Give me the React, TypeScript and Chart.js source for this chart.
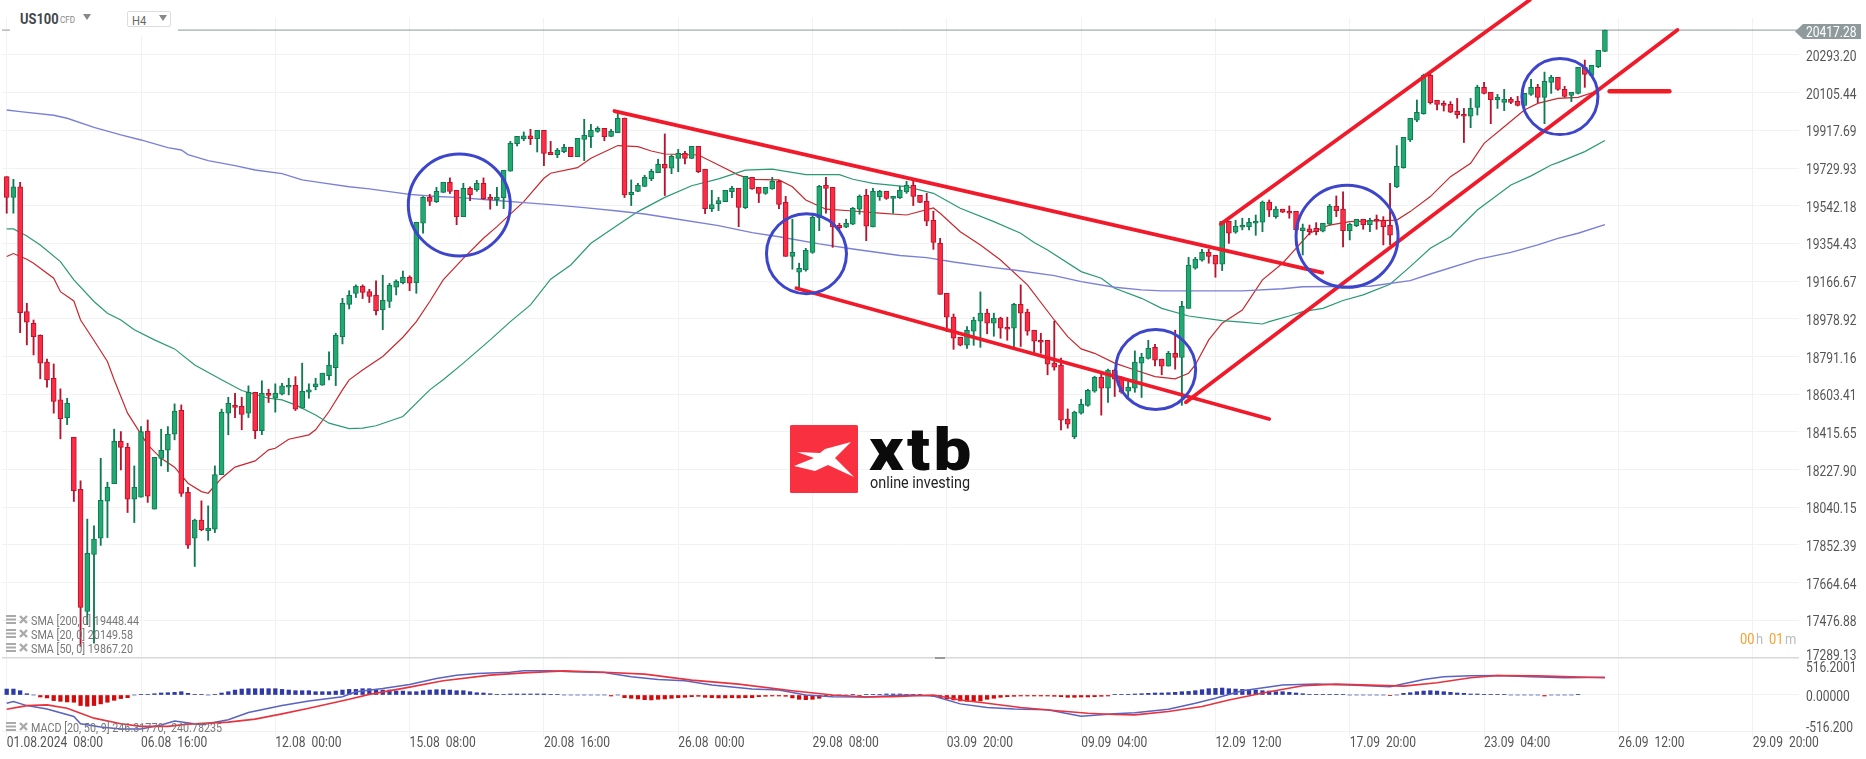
import React, { useEffect, useRef } from 'react';
import Chart from 'chart.js/auto';

const opens = [19687,19584,19637,19015,18957,18897,18763,18683,18575,18487,
18389,18130,17521,17805,17886,18070,18158,18369,18339,18080,
18090,18419,18031,18284,18324,18404,18523,18115,17886,17976,
17924,17931,18203,18509,18548,18543,18509,18613,18422,18608,
18583,18603,18638,18648,18534,18613,18641,18648,18696,18736,
18890,19051,19105,19141,19114,19096,19025,19066,19136,19159,
19186,19159,19455,19584,19563,19609,19659,19619,19488,19629,
19622,19654,19584,19573,19583,19714,19852,19876,19890,19876,
19918,19808,19797,19812,19833,19787,19873,19886,19913,19928,
19888,19906,19979,19598,19614,19639,19677,19707,19749,19729,
19778,19803,19778,19838,19724,19528,19553,19563,19612,19629,
19533,19684,19634,19603,19626,19664,19559,19290,19211,19224,
19310,19481,19644,19634,19445,19435,19450,19525,19594,19437,
19588,19614,19579,19583,19611,19644,19594,19564,19470,19355,
19106,18987,18887,18847,18917,18967,19007,18957,18982,18937,
18932,19051,19012,18922,18872,18872,18758,18748,18479,18392,
18509,18548,18618,18688,18633,18723,18683,18618,18633,18758,
18782,18837,18778,18743,18807,18787,19031,19231,19271,19310,
19295,19251,19465,19410,19435,19438,19455,19460,19561,19488,
19525,19515,19515,19418,19427,19430,19415,19450,19539,19525,
19418,19443,19475,19448,19475,19470,19445,19636,19732,19870,
19969,20001,20192,20067,20052,20047,20013,19998,19988,20032,
20132,20107,20071,20057,20072,20062,20042,20097,20132,20082,
20157,20182,20122,20092,20102,20232,20192,20235,20311];

const closes = [19584,19637,19010,18962,18890,18758,18675,18567,18482,18558,
18123,17541,17811,17881,18075,18140,18369,18338,18080,18140,
18417,18095,18289,18324,18404,18519,18109,17851,17976,17928,
17936,18203,18514,18558,18537,18502,18613,18422,18608,18597,
18608,18645,18648,18529,18618,18625,18655,18708,18748,18897,
19056,19096,19141,19110,19090,19020,19071,19146,19166,19186,
19156,19460,19584,19564,19614,19659,19614,19488,19629,19598,
19654,19578,19574,19584,19719,19853,19888,19890,19876,19918,
19803,19797,19818,19833,19787,19878,19893,19918,19928,19886,
19913,19978,19596,19609,19644,19684,19714,19749,19729,19788,
19803,19778,19838,19712,19528,19548,19568,19619,19629,19534,
19689,19626,19604,19634,19664,19549,19290,19310,19231,19320,
19485,19639,19629,19437,19433,19455,19529,19589,19440,19614,
19614,19579,19589,19619,19644,19589,19559,19465,19360,19101,
18987,18882,18847,18922,18972,19007,18957,18982,18932,18927,
19051,19007,18917,18867,18862,18753,18738,18474,18454,18514,
18553,18623,18688,18633,18723,18678,18613,18638,18763,18787,
18832,18773,18743,18807,18787,19041,19246,19276,19310,19290,
19251,19465,19405,19440,19445,19460,19465,19561,19520,19525,
19510,19505,19422,19432,19413,19413,19455,19539,19518,19418,
19450,19475,19448,19470,19465,19438,19395,19739,19883,19978,
20008,20192,20056,20047,20042,20008,19996,19988,20027,20132,
20102,20071,20082,20072,20057,20042,20102,20132,20082,20162,
20182,20122,20087,20107,20232,20197,20242,20316,20417.28];

const highs = [19687,19674,19659,19056,18973,18899,18778,18754,18630,18583,
18389,18172,17981,17947,18284,18165,18429,18417,18359,18246,
18442,18475,18289,18429,18442,18555,18550,18140,17981,18072,
18047,18246,18529,18588,18608,18588,18645,18613,18670,18628,
18655,18658,18683,18691,18758,18655,18683,18708,18814,18907,
19081,19119,19148,19148,19126,19168,19196,19156,19173,19217,
19193,19460,19588,19599,19634,19659,19681,19619,19654,19637,
19669,19681,19599,19634,19719,19863,19888,19910,19923,19918,
19918,19863,19828,19848,19833,19878,19973,19948,19936,19928,
19923,20006,19979,19671,19654,19694,19724,19774,19900,19795,
19823,19813,19838,19838,19724,19619,19584,19619,19639,19629,
19689,19684,19634,19634,19684,19669,19589,19475,19256,19330,
19491,19644,19684,19634,19455,19475,19534,19596,19624,19629,
19619,19614,19589,19639,19664,19664,19594,19604,19515,19380,
19106,19003,18887,18940,18987,19113,19027,19007,18987,18987,
19056,19148,19027,18922,18907,18872,18967,18783,18530,18519,
18578,18628,18693,18708,18728,18728,18691,18666,18819,18807,
18872,18852,18778,18817,18922,19066,19285,19285,19325,19325,
19295,19465,19465,19470,19480,19480,19496,19566,19571,19538,
19525,19541,19515,19451,19446,19458,19455,19549,19591,19611,
19455,19475,19475,19480,19496,19488,19654,19842,19883,19978,
20069,20198,20198,20067,20064,20061,20077,20027,20077,20142,
20157,20107,20097,20122,20082,20087,20102,20172,20147,20208,
20192,20182,20137,20107,20232,20268,20242,20316,20417.28];

const lows = [19505,19505,18910,18849,18799,18680,18638,18509,18381,18452,
18069,17347,17455,17363,17850,17889,18158,18226,18014,17964,
18090,18064,18031,18246,18218,18376,18094,17835,17745,17923,
17875,17914,18203,18401,18487,18426,18487,18382,18402,18562,
18514,18600,18600,18522,18534,18583,18625,18648,18675,18646,
18854,19028,19085,19080,19060,18998,18925,19035,19098,19153,
19119,19106,19405,19543,19558,19608,19603,19448,19488,19568,
19614,19574,19525,19543,19528,19714,19840,19866,19847,19810,
19742,19797,19782,19807,19787,19787,19767,19832,19908,19866,
19886,19906,19583,19543,19612,19637,19667,19707,19593,19702,
19712,19750,19777,19707,19503,19513,19518,19563,19583,19438,
19528,19624,19558,19599,19624,19528,19290,19226,19131,19216,
19305,19418,19505,19335,19422,19433,19448,19500,19368,19437,
19569,19574,19505,19578,19604,19543,19558,19443,19325,19101,
18915,18827,18844,18832,18847,18837,18904,18892,18882,18872,
18837,18841,18897,18807,18807,18700,18723,18426,18434,18382,
18504,18543,18613,18499,18562,18592,18608,18592,18613,18587,
18778,18744,18700,18743,18728,18548,19031,19226,19266,19256,
19186,19219,19355,19405,19422,19422,19395,19413,19488,19480,
19508,19480,19347,19297,19397,19397,19412,19445,19488,19337,
19372,19438,19425,19413,19425,19347,19347,19632,19729,19862,
19961,19998,20049,20019,20014,20006,19978,19857,19931,19994,
20099,19951,20027,20016,20051,20039,20036,20092,20056,19951,
20102,20117,20082,20061,20099,20132,20187,20230,20310];

const sma200Index = [0,2,7,9,13,17,20,24,26,27,30,34,37,41,44,47,51,54,60,64,67,72,77,81,86,91,95,99,106,111,115,121,126,133,137,141,147,150,156,160,165,169,172,184,190,193,203,209,212,219,224,228,231,234,238];
const sma200Values = [20019,20011,19993,19978,19933,19895,19870,19832,19820,19797,19767,19742,19720,19702,19671,19656,19637,19626,19599,19588,19584,19571,19558,19548,19533,19516,19501,19480,19443,19408,19388,19352,19327,19294,19284,19262,19234,19222,19194,19164,19136,19123,19118,19118,19129,19139,19141,19169,19202,19275,19310,19347,19380,19405,19448];

const sma20Index = [0,1,3,4,7,8,10,11,13,15,16,18,21,23,25,27,29,30,32,34,37,39,40,42,45,46,48,50,51,53,56,59,61,63,65,68,71,73,77,80,81,85,87,91,94,96,98,103,106,109,111,115,117,119,122,126,130,134,138,139,142,145,148,152,156,158,160,162,165,168,171,174,176,177,179,181,184,187,190,192,194,197,200,207,209,212,215,218,220,223,226,228,231,234,237,238];
const sma20Values = [19289,19304,19276,19256,19181,19114,19068,18973,18871,18766,18675,18509,18351,18284,18240,18160,18118,18110,18185,18240,18271,18326,18334,18379,18401,18426,18517,18625,18675,18724,18791,18887,18965,19065,19173,19280,19380,19438,19563,19679,19704,19732,19779,19842,19837,19815,19800,19795,19745,19695,19674,19671,19637,19571,19525,19516,19505,19496,19531,19505,19413,19347,19272,19148,18973,18890,18829,18807,18758,18724,18691,18680,18708,18749,18874,18957,19023,19173,19256,19330,19405,19446,19463,19471,19513,19588,19687,19754,19853,19936,20019,20052,20077,20082,20115,20150];

const sma50Index = [0,1,3,5,8,10,13,15,17,19,22,25,28,32,35,39,41,43,46,48,51,53,55,59,63,65,68,72,75,78,81,84,87,91,94,98,102,106,110,114,119,124,126,129,134,138,142,147,151,153,155,160,163,165,169,172,176,181,184,187,188,191,193,196,199,202,206,209,212,215,219,224,227,230,231,235,238];
const sma50Values = [19427,19427,19392,19347,19264,19173,19065,19007,18973,18924,18874,18829,18749,18675,18622,18583,18575,18550,18500,18459,18432,18434,18446,18492,18625,18675,18758,18874,18965,19048,19176,19247,19355,19446,19513,19584,19642,19676,19720,19725,19697,19697,19674,19654,19637,19604,19530,19463,19405,19359,19322,19214,19181,19131,19081,19031,18993,18970,18962,18953,18965,18993,19015,19031,19070,19098,19151,19239,19330,19388,19521,19646,19691,19745,19757,19812,19867];

const macdHistogram = [83,83,60,18,0,-28,-41,-78,-88,-97,-101,-147,-157,-147,-124,-101,-74,-50,-37,0,
9,9,18,28,32,37,46,23,9,9,0,5,28,46,69,83,88,88,88,88,
88,78,69,60,60,60,46,46,46,55,69,78,78,88,88,78,69,69,55,55,
46,46,60,69,74,74,69,60,60,46,32,28,18,5,5,14,14,14,14,14,
14,5,5,0,0,0,0,0,0,0,-14,0,-37,-46,-55,-65,-69,-60,-55,-46,
-37,-32,-23,-18,-32,-37,-41,-41,-37,-41,-37,-37,-23,-18,-14,-14,-18,-41,-60,-65,
-60,-46,-23,-9,0,0,5,-5,5,9,9,14,14,14,9,9,5,-5,-18,-37,
-55,-69,-83,-88,-92,-83,-60,-46,-32,-23,-18,-14,-14,-14,-14,-14,-18,-23,-32,-32,
-28,-28,-23,-18,-14,5,5,9,14,18,23,28,28,32,37,46,50,60,74,88,
92,97,88,83,78,74,69,60,55,46,46,37,28,18,9,9,5,5,5,5,
0,0,0,0,0,0,-9,0,23,32,46,55,60,55,46,37,28,23,14,14,
9,9,5,5,0,0,0,0,0,-14,0,0,0,0,9];

const macdIndex = [0,1,3,6,10,11,14,17,20,23,25,29,33,36,41,45,50,52,56,60,64,67,70,75,77,81,84,89,93,97,101,105,111,115,119,123,128,134,138,142,146,150,155,160,165,168,173,177,180,184,190,195,200,206,211,214,218,222,227,232,238];
const macdValues = [-115,-92,-148,-194,-300,-401,-447,-475,-475,-419,-364,-415,-346,-244,-148,-83,-23,46,92,148,231,277,300,318,337,337,323,314,254,217,198,138,83,69,0,-23,-28,0,-14,-124,-175,-194,-207,-295,-263,-249,-198,-115,-46,60,138,152,138,115,217,254,267,272,254,240,246];
const signalIndex = [0,3,6,9,13,17,20,24,27,33,37,41,45,51,54,59,65,72,77,83,89,95,102,109,117,123,128,132,138,142,146,151,156,161,165,168,173,178,182,188,193,198,203,208,213,218,222,228,233,238];
const signalValues = [-198,-148,-138,-184,-323,-401,-438,-438,-406,-378,-337,-263,-184,-60,9,92,198,277,309,337,318,291,207,152,60,0,-28,-23,0,-69,-115,-175,-217,-254,-272,-277,-230,-161,-69,46,129,152,138,124,171,240,272,267,254,241];

const priceTicks = [20293.2,20105.44,19917.69,19729.93,19542.18,19354.43,19166.67,18978.92,18791.16,18603.41,18415.65,18227.9,18040.15,17852.39,17664.64,17476.88,17289.13];
const macdTicks = [516.2,0,-516.2];
const macdTickLabels = ['516.2001','0.00000','-516.200'];
const timeLabels = ['01.08.2024  08:00','06.08  16:00','12.08  00:00','15.08  08:00','20.08  16:00','26.08  00:00','29.08  08:00','03.09  20:00','09.09  04:00','12.09  12:00','17.09  20:00','23.09  04:00','26.09  12:00','29.09  20:00'];

const lastPrice = 20417.28;

// hand drawn lines, [index, price] pairs
const channelLines = [
    [[90.5,20014],[195.9,19209]],
    [[117.6,19131],[188,18480]],
    [[180.8,19451],[226.8,20567]],
    [[175.6,18563],[248.8,20418]],
];
const supportMark = [[238.7,20112],[247.6,20112]];
// marked areas: index, price, radius
const circles = [
    [67.4,19546,51],
    [119.1,19303,40],
    [171.1,18726,40],
    [199.6,19390,51],
    [231.3,20086,38],
];

const xMin = -0.7;
const xMax = 266.9;
const textSqueeze = 0.86; // the reference is a horizontally squeezed screenshot

const pairs = (xs: number[], ys: number[]) => xs.map((x, i) => ({ x, y: ys[i] }));
const isUp = (i: number) => closes[i] >= opens[i];

const Label: React.FC<{ x: number; y: number; size?: number; color?: string; bold?: boolean; squeeze?: number; children: React.ReactNode }> = ({ x, y, size = 12.5, color = '#777', bold, squeeze = textSqueeze, children }) => (
    <div style={{
        position: 'absolute', left: x, top: y, fontFamily: 'Roboto, sans-serif', fontSize: size, lineHeight: 1,
        color, fontWeight: bold ? 700 : 400, whiteSpace: 'pre', transform: `translateY(-50%) scaleX(${squeeze})`, transformOrigin: 'left center',
    }}>{children}</div>
);

const LegendIcon: React.FC<{ y: number }> = ({ y }) => (
    <svg style={{ position: 'absolute', left: 6, top: y - 6 }} width={24} height={11}>
        <rect x={0} y={0} width={10} height={2} fill="#aaa" />
        <rect x={0} y={3.5} width={10} height={2} fill="#aaa" />
        <rect x={0} y={7} width={10} height={2} fill="#aaa" />
        <path d="M14 1 L21 8 M21 1 L14 8" stroke="#aaa" strokeWidth={2.4} />
    </svg>
);

// tick labels are painted here so that they can be squeezed like the reference
const squeezedTicks = {
    id: 'squeezedTicks',
    afterDraw: (c: any) => {
        const g = c.ctx;
        const put = (text: string, x: number, y: number) => {
            g.save();
            g.translate(x, y);
            g.scale(textSqueeze, 1);
            g.fillText(text, 0, 0);
            g.restore();
        };
        g.save();
        g.font = '14px Roboto, sans-serif';
        g.fillStyle = '#555';
        g.textAlign = 'left';
        g.textBaseline = 'middle';
        c.scales.x.ticks.forEach((t: any, i: number) => put(timeLabels[i], c.scales.x.getPixelForValue(t.value), 743));
        c.scales.y.ticks.forEach((t: any) => {
            const shift = t.value === 17289.13 ? -2 : 2.5;
            put(t.value.toFixed(2), 1806, c.scales.y.getPixelForValue(t.value) + shift);
        });
        const macdShift = [10, 3, -3];
        c.scales.y2.ticks.forEach((t: any, i: number) => {
            put(macdTickLabels[i], 1806, c.scales.y2.getPixelForValue(t.value) + macdShift[i]);
        });
        g.restore();
    },
};

const App: React.FC = () => {
    const canvasRef = useRef<HTMLCanvasElement>(null);

    useEffect(() => {
        if (!canvasRef.current) return;
        const ctx = canvasRef.current.getContext('2d');
        if (!ctx) return;

        const chart = new Chart(ctx, {
            type: 'bar',
            data: {
                datasets: [
                    // price line across the whole pane
                    { type: 'line', order: 6, data: [{ x: xMin, y: lastPrice }, { x: xMax, y: lastPrice }], borderColor: '#8d9799', borderWidth: 1, pointRadius: 0, yAxisID: 'y' },
                    { type: 'line', order: 5, data: pairs(sma200Index, sma200Values), borderColor: '#7b80d6', borderWidth: 1.4, pointRadius: 0, yAxisID: 'y' },
                    { type: 'line', order: 5, data: pairs(sma50Index, sma50Values), borderColor: '#2a9a74', borderWidth: 1.2, pointRadius: 0, yAxisID: 'y' },
                    { type: 'line', order: 5, data: pairs(sma20Index, sma20Values), borderColor: '#c8282e', borderWidth: 1.2, pointRadius: 0, yAxisID: 'y' },
                    {
                        type: 'bar', order: 4, grouped: false, barThickness: 1.2, yAxisID: 'y',
                        data: highs.map((h, i) => ({ x: i, y: [lows[i], h] })),
                        backgroundColor: opens.map((_, i) => (isUp(i) ? '#0f7a52' : '#b8132c')),
                    },
                    {
                        type: 'bar', order: 3, grouped: false, barThickness: 5, yAxisID: 'y',
                        data: opens.map((o, i) => ({ x: i, y: [o, closes[i]] })),
                        backgroundColor: opens.map((_, i) => (isUp(i) ? '#22a871' : '#fb2c44')),
                        borderColor: opens.map((_, i) => (isUp(i) ? '#0f7a52' : '#b8132c')),
                        borderWidth: 1, borderSkipped: false,
                    },
                    ...channelLines.map((points) => ({
                        type: 'line' as const, order: 1, data: points.map(([x, y]) => ({ x, y })),
                        borderColor: '#f01a2a', borderWidth: 3.8, pointRadius: 0, yAxisID: 'y', borderCapStyle: 'round' as const,
                    })),
                    {
                        type: 'line', order: 1, data: supportMark.map(([x, y]) => ({ x, y })),
                        borderColor: '#ee1c25', borderWidth: 4.5, pointRadius: 0, yAxisID: 'y', borderCapStyle: 'round',
                    },
                    {
                        type: 'bubble', order: 0, yAxisID: 'y',
                        data: circles.map(([x, y, r]) => ({ x, y, r })),
                        backgroundColor: 'transparent', borderColor: '#3d45cb', borderWidth: 3,
                    },
                    {
                        type: 'bar', order: 3, grouped: false, barThickness: 3.6, yAxisID: 'y2',
                        data: macdHistogram.map((v, i) => ({ x: i, y: v })),
                        backgroundColor: macdHistogram.map((v) => (v >= 0 ? '#2f3aa6' : '#d40a0a')),
                    },
                    { type: 'line', order: 1, data: pairs(macdIndex, macdValues), borderColor: '#5a62c2', borderWidth: 1.5, pointRadius: 0, yAxisID: 'y2' },
                    { type: 'line', order: 0, data: pairs(signalIndex, signalValues), borderColor: '#e8323e', borderWidth: 1.6, pointRadius: 0, yAxisID: 'y2' },
                ] as any,
            },
            options: {
                responsive: true,
                maintainAspectRatio: false,
                animation: false,
                layout: { autoPadding: false, padding: { left: 2, right: 0, top: 0, bottom: 0 } },
                plugins: { legend: { display: false }, tooltip: { enabled: false } },
                events: [],
                scales: {
                    x: {
                        type: 'linear', min: xMin, max: xMax, offset: false,
                        grid: { color: '#f1f2f3', offset: false, drawTicks: false },
                        border: { display: false },
                        afterBuildTicks: (s: any) => { s.ticks = timeLabels.map((_, k) => ({ value: k * 20 })); },
                        afterFit: (s: any) => { s.height = 22; },
                        ticks: { display: false, autoSkip: false, maxRotation: 0 },
                    },
                    y: {
                        type: 'linear', position: 'right', stack: 'panes', stackWeight: 658, min: 17289.13, max: 20567.2,
                        grid: {
                            drawTicks: false,
                            color: (c: any) => (c.tick && c.tick.value === 17289.13 ? '#d6d8d9' : '#f1f2f3'),
                            lineWidth: (c: any) => (c.tick && c.tick.value === 17289.13 ? 1.5 : 1),
                        },
                        border: { display: false },
                        afterBuildTicks: (s: any) => { s.ticks = priceTicks.map((value) => ({ value })); },
                        afterFit: (s: any) => { s.width = 67; },
                        ticks: { display: false, autoSkip: false },
                    },
                    y2: {
                        type: 'linear', position: 'right', stack: 'panes', stackWeight: 79, min: -586, max: 516.2,
                        grid: { drawTicks: false, color: (c: any) => (c.tick && c.tick.value === 516.2 ? 'transparent' : '#f1f2f3') },
                        border: { display: false },
                        afterBuildTicks: (s: any) => { s.ticks = macdTicks.map((value) => ({ value })); },
                        afterFit: (s: any) => { s.width = 67; },
                        ticks: { display: false, autoSkip: false },
                    },
                } as any,
            },
            plugins: [{
                // grid stops below the header strip
                id: 'headerStrip',
                beforeDatasetsDraw: (c: any) => {
                    c.ctx.save();
                    c.ctx.fillStyle = '#fff';
                    c.ctx.fillRect(0, 0, c.width, 18);
                    c.ctx.restore();
                },
            }, squeezedTicks],
        });

        return () => {
            chart.destroy();
        };
    }, []);

    return (
        <div style={{ position: 'fixed', left: 0, top: 0, width: 1866, height: 759, background: '#fff', overflow: 'hidden' }}>
            <canvas ref={canvasRef} />

            <div style={{ position: 'absolute', left: 10, top: 0, width: 168, height: 36, background: '#fff' }} />
            <Label x={20} y={19} size={15} color="#3f474b" bold>US100</Label>
            <Label x={60} y={20} size={9.5} color="#888">CFD</Label>
            <svg style={{ position: 'absolute', left: 83, top: 14 }} width={9} height={7}><path d="M0 0 H8 L4 6 Z" fill="#888" /></svg>
            <div style={{ position: 'absolute', left: 127, top: 11, width: 42, height: 14, border: '1px solid #ddd', borderRadius: 2 }} />
            <Label x={132} y={20} size={13} color="#666">H4</Label>
            <svg style={{ position: 'absolute', left: 159, top: 15 }} width={9} height={7}><path d="M0 0 H8 L4 6 Z" fill="#888" /></svg>

            <div style={{
                position: 'absolute', left: 1795, top: 24, width: 66, height: 15, background: '#8f9a9c',
                clipPath: 'polygon(0 50%, 8px 0, 100% 0, 100% 100%, 8px 100%)',
            }} />
            <Label x={1806} y={32} size={14} color="#fff">20417.28</Label>

            <LegendIcon y={621} />
            <Label x={31} y={621}>SMA [200, 0] 19448.44</Label>
            <LegendIcon y={635} />
            <Label x={31} y={635}>SMA [20, 0] 20149.58</Label>
            <LegendIcon y={649} />
            <Label x={31} y={649}>SMA [50, 0] 19867.20</Label>
            <LegendIcon y={728} />
            <Label x={31} y={728}>MACD [20, 50, 9] 246.31770,  240.78235</Label>

            <Label x={1740} y={639} size={15} color="#f7a02c">00</Label>
            <Label x={1756} y={639} size={15} color="#b9bcbd">h</Label>
            <Label x={1769} y={639} size={15} color="#f7a02c">01</Label>
            <Label x={1785} y={639} size={15} color="#b9bcbd">m</Label>

            <div style={{ position: 'absolute', left: 935, top: 657, width: 10, height: 2, background: '#9a9a9a' }} />

            <svg style={{ position: 'absolute', left: 790, top: 425 }} width={68} height={68}>
                <rect width={68} height={68} rx={1.5} fill="#f9303f" />
                <path d="M7 27 L30 28 L35 24 L61 17 L45 33 L64 52 L38 40 L25 46 L4 41 L24 33 Z" fill="#fff" />
            </svg>
            <div style={{ position: 'absolute', left: 869, top: 417, fontFamily: 'Roboto, sans-serif', fontWeight: 900, fontSize: 60, lineHeight: '66px', color: '#0b0b0b', whiteSpace: 'pre', letterSpacing: 3, transform: 'scaleX(1.12)', transformOrigin: 'left center' }}>xtb</div>
            <Label x={870} y={483} size={16} color="#222" squeeze={0.9}>online investing</Label>
        </div>
    );
};

export default App;
